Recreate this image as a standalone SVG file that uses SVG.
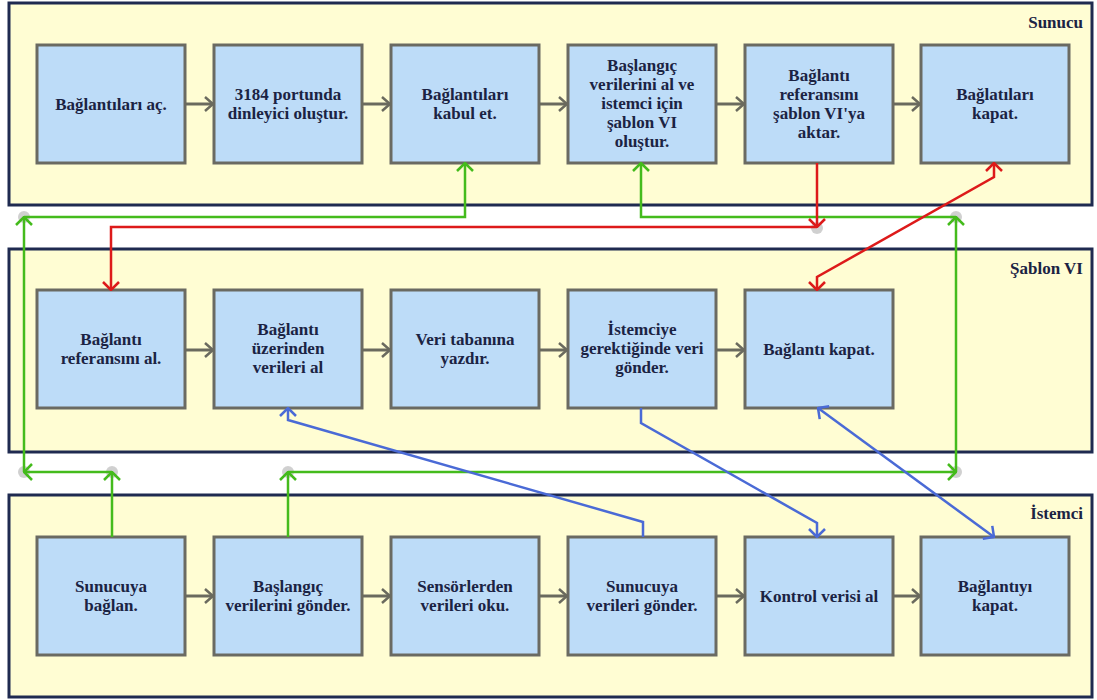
<svg xmlns="http://www.w3.org/2000/svg" width="1097" height="700" viewBox="0 0 1097 700">
<style>
.lane{fill:#fffdd3;stroke:#1f2a50;stroke-width:3}
text{font-weight:bold;font-size:17px;fill:#1b2343}
.lbl{text-anchor:end}
.node rect{fill:#bddcf8;stroke:#6a6a62;stroke-width:3}
.node text{text-anchor:middle}
.flow{stroke:#6a6a5e;stroke-width:3;fill:none;marker-end:url(#mg)}
.g{stroke:#44bb1c;stroke-width:2.5;fill:none;marker-end:url(#mgr)}
.r{stroke:#dd1a1a;stroke-width:2.5;fill:none;marker-end:url(#mr)}
.b{stroke:#4a6ad6;stroke-width:2.5;fill:none;marker-end:url(#mb)}
.dot{fill:#b0b0b0;opacity:0.6}
</style>
<defs>
<marker id="mg" viewBox="0 0 10 16" refX="9" refY="8" markerWidth="10" markerHeight="16" markerUnits="userSpaceOnUse" orient="auto"><path d="M1,1 L9,8 L1,15" fill="none" stroke="#6a6a5e" stroke-width="2.5"/></marker>
<marker id="mgr" viewBox="0 0 10 18" refX="9" refY="9" markerWidth="10" markerHeight="18" markerUnits="userSpaceOnUse" orient="auto-start-reverse"><path d="M1,1 L9,9 L1,17" fill="none" stroke="#44bb1c" stroke-width="2.5"/></marker>
<marker id="mr" viewBox="0 0 10 18" refX="9" refY="9" markerWidth="10" markerHeight="18" markerUnits="userSpaceOnUse" orient="auto-start-reverse"><path d="M1,1 L9,9 L1,17" fill="none" stroke="#dd1a1a" stroke-width="2.5"/></marker>
<marker id="mb" viewBox="0 0 10 18" refX="9" refY="9" markerWidth="10" markerHeight="18" markerUnits="userSpaceOnUse" orient="auto-start-reverse"><path d="M1,1 L9,9 L1,17" fill="none" stroke="#4a6ad6" stroke-width="2.5"/></marker>
</defs>
<rect width="1097" height="700" fill="#ffffff"/>

<g id="lane-sunucu"><rect class="lane" x="9" y="3" width="1083" height="202"/><text class="lbl" x="1083" y="28" font-family="Liberation Serif, serif">Sunucu</text></g>
<g id="lane-sablon"><rect class="lane" x="9" y="249" width="1083" height="203"/><text class="lbl" x="1083" y="274" font-family="Liberation Serif, serif">Şablon VI</text></g>
<g id="lane-istemci"><rect class="lane" x="9" y="495" width="1083" height="202"/><text class="lbl" x="1083" y="519" font-family="Liberation Serif, serif">İstemci</text></g>

<g id="s1" class="node"><rect x="37" y="45" width="148" height="118"/><text font-family="Liberation Serif, serif" x="111" y="110">Bağlantıları aç.</text></g>
<g id="s2" class="node"><rect x="214" y="45" width="148" height="118"/><text font-family="Liberation Serif, serif" x="288" y="100"><tspan x="288">3184 portunda</tspan><tspan x="288" dy="19">dinleyici oluştur.</tspan></text></g>
<g id="s3" class="node"><rect x="391" y="45" width="148" height="118"/><text font-family="Liberation Serif, serif" x="465" y="100"><tspan x="465">Bağlantıları</tspan><tspan x="465" dy="19">kabul et.</tspan></text></g>
<g id="s4" class="node"><rect x="568" y="45" width="148" height="118"/><text font-family="Liberation Serif, serif" x="642" y="71"><tspan x="642">Başlangıç</tspan><tspan x="642" dy="19">verilerini al ve</tspan><tspan x="642" dy="19">istemci için</tspan><tspan x="642" dy="19">şablon VI</tspan><tspan x="642" dy="19">oluştur.</tspan></text></g>
<g id="s5" class="node"><rect x="745" y="45" width="148" height="118"/><text font-family="Liberation Serif, serif" x="819" y="81"><tspan x="819">Bağlantı</tspan><tspan x="819" dy="19">referansını</tspan><tspan x="819" dy="19">şablon VI'ya</tspan><tspan x="819" dy="19">aktar.</tspan></text></g>
<g id="s6" class="node"><rect x="921" y="45" width="148" height="118"/><text font-family="Liberation Serif, serif" x="995" y="100"><tspan x="995">Bağlatıları</tspan><tspan x="995" dy="19">kapat.</tspan></text></g>

<g id="t1" class="node"><rect x="37" y="290" width="148" height="118"/><text font-family="Liberation Serif, serif" x="111" y="345"><tspan x="111">Bağlantı</tspan><tspan x="111" dy="19">referansını al.</tspan></text></g>
<g id="t2" class="node"><rect x="214" y="290" width="148" height="118"/><text font-family="Liberation Serif, serif" x="288" y="335"><tspan x="288">Bağlantı</tspan><tspan x="288" dy="19">üzerinden</tspan><tspan x="288" dy="19">verileri al</tspan></text></g>
<g id="t3" class="node"><rect x="391" y="290" width="148" height="118"/><text font-family="Liberation Serif, serif" x="465" y="345"><tspan x="465">Veri tabanına</tspan><tspan x="465" dy="19">yazdır.</tspan></text></g>
<g id="t4" class="node"><rect x="568" y="290" width="148" height="118"/><text font-family="Liberation Serif, serif" x="642" y="335"><tspan x="642">İstemciye</tspan><tspan x="642" dy="19">gerektiğinde veri</tspan><tspan x="642" dy="19">gönder.</tspan></text></g>
<g id="t5" class="node"><rect x="745" y="290" width="148" height="118"/><text font-family="Liberation Serif, serif" x="819" y="355">Bağlantı kapat.</text></g>

<g id="i1" class="node"><rect x="37" y="537" width="148" height="118"/><text font-family="Liberation Serif, serif" x="111" y="592"><tspan x="111">Sunucuya</tspan><tspan x="111" dy="19">bağlan.</tspan></text></g>
<g id="i2" class="node"><rect x="214" y="537" width="148" height="118"/><text font-family="Liberation Serif, serif" x="288" y="592"><tspan x="288">Başlangıç</tspan><tspan x="288" dy="19">verilerini gönder.</tspan></text></g>
<g id="i3" class="node"><rect x="391" y="537" width="148" height="118"/><text font-family="Liberation Serif, serif" x="465" y="592"><tspan x="465">Sensörlerden</tspan><tspan x="465" dy="19">verileri oku.</tspan></text></g>
<g id="i4" class="node"><rect x="568" y="537" width="148" height="118"/><text font-family="Liberation Serif, serif" x="642" y="592"><tspan x="642">Sunucuya</tspan><tspan x="642" dy="19">verileri gönder.</tspan></text></g>
<g id="i5" class="node"><rect x="745" y="537" width="148" height="118"/><text font-family="Liberation Serif, serif" x="819" y="602">Kontrol verisi al</text></g>
<g id="i6" class="node"><rect x="921" y="537" width="148" height="118"/><text font-family="Liberation Serif, serif" x="995" y="592"><tspan x="995">Bağlantıyı</tspan><tspan x="995" dy="19">kapat.</tspan></text></g>

<g id="connectors">
<path class="flow" d="M185,104 H213"/>
<path class="flow" d="M362,104 H390"/>
<path class="flow" d="M539,104 H567"/>
<path class="flow" d="M716,104 H744"/>
<path class="flow" d="M893,104 H920"/>
<path class="flow" d="M185,350 H213"/>
<path class="flow" d="M362,350 H390"/>
<path class="flow" d="M539,350 H567"/>
<path class="flow" d="M716,350 H744"/>
<path class="flow" d="M185,596 H213"/>
<path class="flow" d="M362,596 H390"/>
<path class="flow" d="M539,596 H567"/>
<path class="flow" d="M716,596 H744"/>
<path class="flow" d="M893,596 H920"/>

<circle class="dot" cx="24" cy="217" r="6"/>
<circle class="dot" cx="956" cy="217" r="6"/>
<circle class="dot" cx="817" cy="228" r="6"/>
<circle class="dot" cx="24" cy="472" r="6"/>
<circle class="dot" cx="112" cy="472" r="6"/>
<circle class="dot" cx="288" cy="472" r="6"/>
<circle class="dot" cx="956" cy="472" r="6"/>

<path class="g" d="M112,537 V472"/>
<path class="g" d="M112,472 H24"/>
<path class="g" d="M24,472 V217"/>
<path class="g" d="M24,217 H465 V163"/>
<path class="g" d="M288,537 V472"/>
<path class="g" d="M288,472 H956"/>
<path class="g" d="M956,472 V217"/>
<path class="g" d="M956,217 H641 V163"/>

<path class="r" d="M817,163 V227"/>
<path class="r" d="M817,227 H111 V290"/>
<path class="r" d="M817,290 V277 L994,177 V163" marker-start="url(#mr)"/>

<path class="b" d="M643,537 V522 L288,420 V408"/>
<path class="b" d="M641,408 V423 L817,523 V537"/>
<path class="b" d="M818,408 L994,537" marker-start="url(#mb)"/>
</g>
</svg>
